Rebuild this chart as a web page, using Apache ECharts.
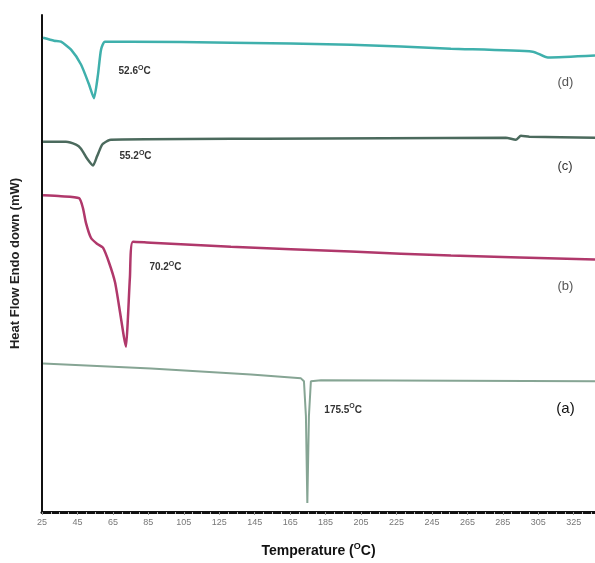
<!DOCTYPE html>
<html>
<head>
<meta charset="utf-8">
<script src="https://cdn.jsdelivr.net/npm/echarts@6/dist/echarts.min.js"></script>
<style>
  html, body { margin: 0; padding: 0; background: #fff; }
  #chart { width: 595px; height: 563px; }
</style>
</head>
<body>
<div id="chart"></div>
<script>
// DSC curves, stacked with an offset (arbitrary heat flow units)
var xTicks = [25, 45, 65, 85, 105, 125, 145, 165, 185, 205, 225, 245, 265, 285, 305, 325];

// (d)
var dT = [25.6, 31.8, 35.7, 41.4, 47.0, 51.5, 54.3, 56.6, 58.3, 60.5, 75, 131.6, 199.3, 255.7, 301.9, 310.4, 337];
var dY = [479, 476, 475, 467, 452, 432, 418, 442, 467, 475, 475, 474, 472, 468, 465, 459, 461];
// (c)
var cT = [25.6, 38.5, 44.2, 47.0, 50.4, 53.8, 56.0, 58.3, 59.4, 63.9, 150, 286.7, 292.3, 295.2, 300, 337];
var cY = [374, 374, 371, 367, 357, 350, 359, 369, 372, 376, 377, 378, 376, 380, 379, 378];
// (b)
var bT = [25.6, 35.7, 45.9, 48.1, 49.8, 52.6, 56.0, 59.4, 62.8, 66.2, 69.0, 71.2, 72.4, 73.5, 74.6, 76.3, 86.5, 131.6, 199.3, 255.7, 337];
var bY = [320, 319, 317, 307, 292, 277, 271, 267, 252, 232, 202, 177, 167, 197, 237, 273, 272, 268, 263, 259, 255];
// (a)
var aT = [25.6, 86.5, 142.9, 171.1, 172.8, 173.9, 174.7, 175.6, 176.7, 182.4, 337];
var aY = [150, 145, 139, 135, 132, 97, 9, 97, 132, 133, 132];

var peakText = ['52.6', '55.2', '70.2', '175.5'];
var curveNames = ['(d)', '(c)', '(b)', '(a)'];

function zip(xs, ys) {
  return xs.map(function (x, i) { return [x, ys[i]]; });
}

var supRich = {
  v: { fontSize: 10, fontWeight: 'bold', color: '#333', fontFamily: 'Liberation Sans' },
  s: { fontSize: 7, fontWeight: 'bold', color: '#333', fontFamily: 'Liberation Sans', padding: [0, 0, 7, 0] }
};

function notes(peakIdx, peakAt, nameAt, nameColor, nameSize) {
  return {
    symbol: 'circle',
    symbolSize: 1,
    itemStyle: { color: 'rgba(0,0,0,0)' },
    silent: true,
    data: [
      {
        coord: peakAt,
        label: {
          show: true, position: 'right', distance: 0,
          formatter: '{v|' + peakText[peakIdx] + '}{s|O}{v|C}',
          rich: supRich
        }
      },
      {
        coord: nameAt,
        label: {
          show: true, position: 'right', distance: 0,
          formatter: curveNames[peakIdx],
          fontSize: nameSize, color: nameColor, fontFamily: 'Liberation Sans'
        }
      }
    ]
  };
}

var chart = echarts.init(document.getElementById('chart'));
var option = {
  animation: false,
  grid: { left: 42, right: 0, top: 15, bottom: 46 },
  xAxis: {
    type: 'value',
    min: 25,
    max: 337,
    interval: 20,
    name: '{n|Temperature (}{s|O}{n|C)}',
    nameLocation: 'middle',
    nameGap: 30,
    nameTextStyle: {
      rich: {
        n: { fontSize: 14, fontWeight: 'bold', color: '#111', fontFamily: 'Liberation Sans' },
        s: { fontSize: 9, fontWeight: 'bold', color: '#111', fontFamily: 'Liberation Sans', padding: [0, 0, 9, 0] }
      }
    },
    axisLine: { lineStyle: { color: '#111', width: 3 } },
    axisTick: { length: 3, lineStyle: { color: '#999' } },
    minorTick: { show: true, splitNumber: 4, length: 2, lineStyle: { color: '#bbb' } },
    axisLabel: {
      fontSize: 9, color: '#777', margin: 6, fontFamily: 'Liberation Sans',
      customValues: xTicks
    },
    splitLine: { show: false }
  },
  yAxis: {
    type: 'value',
    min: 0,
    max: 502,
    name: 'Heat Flow Endo down (mW)',
    nameLocation: 'middle',
    nameGap: 20,
    nameTextStyle: { fontSize: 13, fontWeight: 'bold', color: '#222', fontFamily: 'Liberation Sans' },
    axisLine: { show: true, lineStyle: { color: '#111', width: 2 } },
    axisTick: { show: false },
    axisLabel: { show: false },
    splitLine: { show: false }
  },
  series: [
    {
      type: 'line', data: zip(dT, dY), showSymbol: false, smooth: 0.2,
      lineStyle: { color: '#3fb0ac', width: 2.5 },
      markPoint: notes(0, [67.9, 445], [315.5, 434], '#555', 13)
    },
    {
      type: 'line', data: zip(cT, cY), showSymbol: false, smooth: 0.2,
      lineStyle: { color: '#4b6a5d', width: 2.5 },
      markPoint: notes(1, [68.4, 359], [315.5, 349], '#333', 13)
    },
    {
      type: 'line', data: zip(bT, bY), showSymbol: false, smooth: 0.2,
      lineStyle: { color: '#b0386b', width: 2.5 },
      markPoint: notes(2, [85.3, 247], [315.5, 228], '#555', 13)
    },
    {
      type: 'line', data: zip(aT, aY), showSymbol: false,
      lineStyle: { color: '#86a594', width: 2 },
      markPoint: notes(3, [184.0, 103], [314.9, 104], '#111', 15)
    }
  ]
};
option && chart.setOption(option);
</script>
</body>
</html>
